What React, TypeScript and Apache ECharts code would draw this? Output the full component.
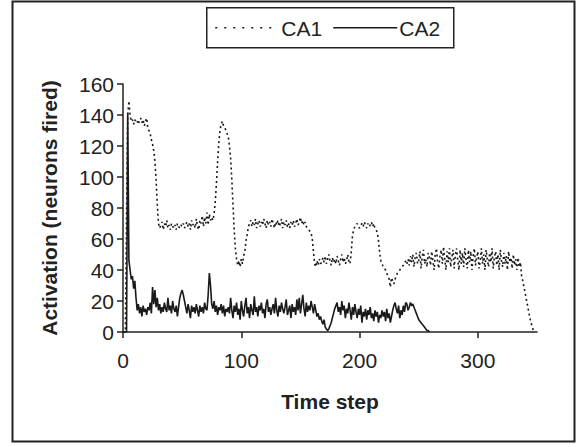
import React, { useEffect, useRef } from "react";
import * as echarts from "echarts";

const seriesNames = ["CA1", "CA2"];
const xTicks = { min: 0, max: 350, interval: 100 };
const yTicks = { min: 0, max: 160, interval: 20 };

// CA1 activation per time step, t = 0..347
const ca1: number[] = [
  0, 0, 0, 75, 140, 149, 140, 136, 137, 134,
  137, 135, 136, 134, 137, 138, 135, 137, 133, 136,
  138, 131, 130, 128, 124, 121, 117, 110, 98, 82,
  70, 67, 69, 71, 66, 70, 68, 72, 67, 69,
  66, 70, 68, 67, 69, 66, 70, 68, 67, 69,
  68, 70, 67, 69, 71, 68, 70, 66, 72, 69,
  70, 67, 73, 68, 66, 72, 70, 75, 68, 74,
  70, 77, 69, 76, 72, 74, 72, 76, 84, 96,
  110, 122, 130, 134, 136, 133, 132, 130, 128, 126,
  120, 112, 98, 82, 66, 54, 47, 43, 46, 42,
  47, 44, 49, 52, 59, 63, 68, 70, 72, 68,
  71, 69, 73, 67, 70, 72, 68, 71, 69, 73,
  70, 67, 72, 69, 71, 68, 73, 70, 67, 71,
  69, 72, 68, 70, 73, 67, 71, 69, 72, 68,
  70, 67, 71, 69, 72, 68, 70, 73, 69, 71,
  74, 70, 72, 69, 71, 68, 67, 66, 65, 64,
  60, 52, 44, 42, 46, 43, 47, 44, 45, 48,
  45, 49, 44, 47, 50, 46, 43, 48, 45, 47,
  44, 49, 46, 43, 47, 50, 45, 48, 44, 46,
  50, 45, 44, 52, 62, 66, 68, 69, 70, 68,
  67, 69, 70, 68, 71, 69, 67, 70, 68, 69,
  71, 68, 70, 67, 66, 64, 59, 51, 46, 44,
  42, 41, 40, 38, 36, 34, 29, 35, 33, 31,
  34, 36, 38, 39, 40, 41, 42, 43, 44, 46,
  44, 47, 43, 49, 45, 50, 42, 48, 51, 44,
  46, 52, 41, 49, 53, 44, 47, 42, 51, 48,
  43, 52, 46, 40, 50, 54, 45, 41, 49, 53,
  44, 55, 47, 40, 52, 45, 54, 42, 48, 53,
  41, 50, 54, 46, 40, 53, 44, 51, 42, 54,
  47, 41, 53, 45, 52, 40, 49, 54, 43, 48,
  52, 41, 46, 54, 44, 50, 40, 53, 47, 42,
  51, 45, 54, 41, 48, 52, 43, 50, 40, 53,
  46, 42, 51, 44, 49, 40, 52, 45, 48, 41,
  50, 43, 47, 40, 48, 42, 45, 36, 33, 29,
  25, 21, 17, 13, 9, 6, 3, 1,
];

// CA2 activation per time step, t = 0..259
const ca2: number[] = [
  0, 0, 0, 0, 141, 46, 40, 34, 36, 28,
  33, 22, 14, 18, 12, 16, 10, 17, 13, 15,
  11, 16, 14, 19, 12, 29, 18, 27, 16, 22,
  14, 18, 12, 16, 13, 19, 15, 13, 22, 14,
  17, 12, 20, 15, 13, 17, 10, 16, 22, 25,
  27, 24, 20, 16, 12, 18, 14, 9, 17, 13,
  16, 12, 18, 14, 10, 17, 13, 16, 12, 19,
  15, 14, 24, 38, 30, 18, 15, 20, 13, 17,
  11, 16, 14, 18, 12, 17, 10, 15, 13, 16,
  12, 22, 14, 9, 17, 13, 19, 11, 15, 8,
  20, 14, 10, 17, 22, 12, 16, 9, 18, 14,
  11, 23, 13, 16, 10, 17, 14, 19, 12, 15,
  9, 18, 21, 13, 16, 11, 15, 18, 12, 22,
  14, 10, 17, 13, 19, 15, 12, 16, 21, 11,
  14, 17, 9, 18, 13, 16, 11, 21, 14, 22,
  12, 18, 24, 15, 10, 19, 13, 17, 14, 20,
  16, 12, 18, 14, 10, 12, 8, 10, 7, 5,
  8, 3, 2, 1, 2, 4, 6, 9, 12, 15,
  17, 19, 13, 16, 11, 20, 14, 17, 9, 15,
  12, 19, 14, 8, 16, 11, 18, 13, 9, 15,
  11, 17, 6, 13, 10, 15, 8, 14, 11, 16,
  9, 12, 7, 14, 10, 13, 6, 11, 9, 14,
  10, 13, 7, 15, 9, 12, 6, 10, 14, 17,
  19, 15, 12, 17, 9, 14, 11, 17, 13, 19,
  18, 14, 16, 19, 17, 18, 16, 14, 12, 10,
  8, 7, 6, 5, 4, 3, 2, 1, 1, 0,
];

const FONT = "Liberation Sans, Arial, sans-serif";
const INK = "#222222";
const LINE = "#1a1a1a";

export default function App() {
  const ref = useRef<HTMLDivElement>(null);
  useEffect(() => {
    if (!ref.current) return;
    const chart = echarts.init(ref.current, undefined, { renderer: "svg" });
    const toPairs = (arr: number[]) => arr.map((v, i) => [i, v]);
    chart.setOption({
      animation: false,
      backgroundColor: "#ffffff",
      textStyle: { fontFamily: FONT, color: INK },
      grid: { left: 123, right: 42, top: 84, bottom: 115, containLabel: false },
      legend: { show: false },
      xAxis: {
        type: "value",
        min: xTicks.min,
        max: xTicks.max,
        interval: xTicks.interval,
        name: "Time step",
        nameLocation: "middle",
        nameGap: 59,
        nameTextStyle: { fontSize: 21, fontWeight: "bold", color: INK, fontFamily: FONT },
        axisLine: { show: true, onZero: false, lineStyle: { color: INK, width: 1.5 } },
        axisTick: { show: true, inside: false, length: 6, lineStyle: { color: INK, width: 1.5 } },
        axisLabel: { fontSize: 21, color: INK, margin: 18, showMaxLabel: false, fontFamily: FONT },
        splitLine: { show: false },
      },
      yAxis: {
        type: "value",
        min: yTicks.min,
        max: yTicks.max,
        interval: yTicks.interval,
        name: "Activation (neurons fired)",
        nameLocation: "middle",
        nameGap: 63,
        nameTextStyle: { fontSize: 21, fontWeight: "bold", color: INK, fontFamily: FONT },
        axisLine: { show: true, lineStyle: { color: INK, width: 1.5 } },
        axisTick: { show: true, inside: false, length: 6, lineStyle: { color: INK, width: 1.5 } },
        axisLabel: { fontSize: 21, color: INK, margin: 9, fontFamily: FONT },
        splitLine: { show: false },
      },
      graphic: [
        {
          type: "rect",
          shape: { x: 12.5, y: 1.5, width: 562, height: 440 },
          style: { fill: "none", stroke: INK, lineWidth: 2 },
          silent: true,
          z: -10,
        },
        {
          type: "group",
          left: 206,
          top: 7,
          children: [
            {
              type: "rect",
              shape: { x: 0.5, y: 0.5, width: 247, height: 40 },
              style: { fill: "#ffffff", stroke: INK, lineWidth: 1.5 },
            },
            {
              type: "line",
              shape: { x1: 9, y1: 20.5, x2: 71, y2: 20.5 },
              style: { stroke: LINE, lineWidth: 1.5, lineDash: [2, 7] },
            },
            {
              type: "text",
              x: 75,
              y: 21,
              style: {
                text: seriesNames[0],
                fontSize: 21,
                fontFamily: FONT,
                fill: INK,
                verticalAlign: "middle",
                align: "left",
              },
            },
            {
              type: "line",
              shape: { x1: 127, y1: 20.5, x2: 191, y2: 20.5 },
              style: { stroke: LINE, lineWidth: 1.5 },
            },
            {
              type: "text",
              x: 193,
              y: 21,
              style: {
                text: seriesNames[1],
                fontSize: 21,
                fontFamily: FONT,
                fill: INK,
                verticalAlign: "middle",
                align: "left",
              },
            },
          ],
        },
      ],
      series: [
        {
          name: seriesNames[0],
          type: "line",
          data: toPairs(ca1),
          showSymbol: false,
          symbol: "none",
          lineStyle: { color: LINE, width: 1.6, type: [2, 3] },
          itemStyle: { color: LINE },
        },
        {
          name: seriesNames[1],
          type: "line",
          data: toPairs(ca2),
          showSymbol: false,
          symbol: "none",
          lineStyle: { color: LINE, width: 1.6, type: "solid" },
          itemStyle: { color: LINE },
        },
      ],
    });
    return () => chart.dispose();
  }, []);
  return (
    <div
      ref={ref}
      style={{ position: "absolute", left: 0, top: 0, width: 579, height: 447 }}
    />
  );
}
